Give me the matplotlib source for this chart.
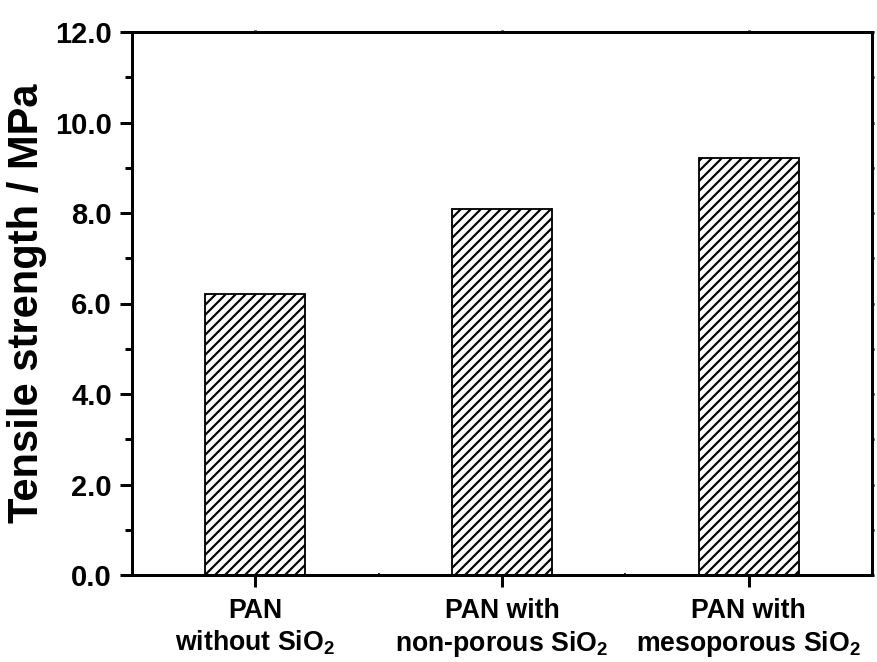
import matplotlib
matplotlib.use("Agg")
import matplotlib.pyplot as plt
from matplotlib.ticker import MultipleLocator, FixedLocator

# data
categories = ["PAN\nwithout SiO$_\\mathbf{2}$",
              "PAN with\nnon-porous SiO$_\\mathbf{2}$",
              "PAN with\nmesoporous SiO$_\\mathbf{2}$"]
strength = [6.22, 8.08, 9.22]

plt.rcParams['font.family'] = ['Liberation Sans', 'DejaVu Sans']
plt.rcParams['font.weight'] = 'bold'
plt.rcParams['mathtext.fontset'] = 'custom'
plt.rcParams['mathtext.bf'] = 'Liberation Sans:bold'
plt.rcParams['mathtext.rm'] = 'Liberation Sans:bold'
plt.rcParams['hatch.linewidth'] = 1.3

fig = plt.figure(figsize=(877 / 120, 662 / 120), dpi=120)
ax = fig.add_axes([132 / 877, 87 / 662, 740 / 877, 543 / 662])

x = [1, 2, 3]
ax.bar(x, strength, width=0.405, color='white', edgecolor='black',
       linewidth=1.1, hatch='////')

ax.set_xlim(0.5, 3.5)
ax.set_ylim(0, 12)
ax.set_xticks(x)
ax.set_xticklabels(categories, fontsize=16, fontweight='bold', linespacing=1.2)
ax.xaxis.set_minor_locator(FixedLocator([1.5, 2.5]))
ax.yaxis.set_major_locator(MultipleLocator(2))
ax.yaxis.set_minor_locator(MultipleLocator(1))
ax.set_yticklabels([f"{v:.1f}" for v in ax.get_yticks()], fontsize=17.5,
                   fontweight='bold')

ax.set_ylabel("Tensile strength / MPa", fontsize=25, fontweight='bold',
              labelpad=5)

for s in ax.spines.values():
    s.set_linewidth(1.8)

ax.tick_params(axis='both', which='major', direction='out', length=7,
               width=1.8, pad=5)
ax.tick_params(axis='x', which='major', pad=7)
ax.tick_params(axis='y', which='minor', direction='out', length=4, width=1.8)
ax.tick_params(axis='x', which='minor', direction='in', length=1.2, width=1.0)
ax.tick_params(which='both', top=True, right=True)
for t in ax.xaxis.get_major_ticks() + ax.yaxis.get_major_ticks():
    t.tick2line.set_markersize(1.2)
for t in ax.yaxis.get_minor_ticks():
    t.tick2line.set_markersize(1.2)

fig.savefig("out.png", dpi=120)
